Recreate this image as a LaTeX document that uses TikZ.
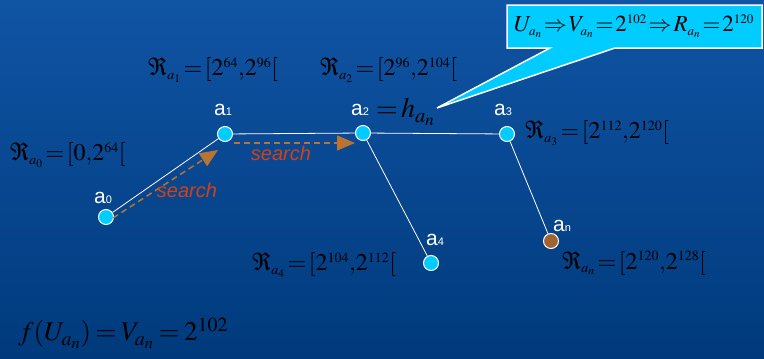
\documentclass[tikz,border=0pt]{standalone}
\usepackage{mathptmx}
\usepackage[no-math]{fontspec}
\setmainfont{Liberation Serif}
\newfontfamily\labfont{Liberation Sans}
\usetikzlibrary{arrows.meta}
\DeclareMathSizes{24}{24}{14}{11.5}
\DeclareMathSizes{23}{23}{13}{11}
\definecolor{bgtop}{RGB}{16,84,164}
\definecolor{bgbot}{RGB}{0,58,124}
\definecolor{nodecyan}{RGB}{0,204,255}
\definecolor{nodebrown}{RGB}{160,100,50}
\definecolor{arrowbrown}{RGB}{185,115,50}
\definecolor{searchred}{RGB}{210,65,20}
\definecolor{calloutfill}{RGB}{0,204,255}
\newcommand\albl[1]{a{\fontsize{11}{11}\selectfont #1}}
\newcommand\tmath[2]{\thickmuskip=#1\relax\medmuskip=1mu\relax$#2$}
\begin{document}
\begin{tikzpicture}[x=1pt,y=-1pt,
  vertex/.style={circle,fill=nodecyan,draw=white,line width=1pt,minimum size=15pt,inner sep=0pt},
  lab/.style={text=white,font=\labfont\fontsize{21}{21}\selectfont,inner sep=0pt},
  edge/.style={white,line width=0.8pt},
  srch/.style={arrowbrown,line width=1.5pt,dash pattern=on 6pt off 4pt,-{Triangle[length=18pt,width=15pt]}},
  srchlab/.style={text=searchred,font=\labfont\itshape\fontsize{20}{20}\selectfont,inner sep=0pt},
  mth/.style={text=black,font=\fontsize{24}{26}\selectfont,inner sep=0pt,anchor=west}]
\shade[top color=bgtop,bottom color=bgbot] (0,0) rectangle (764,359);
\useasboundingbox (0,0) rectangle (764,359);
% callout
\fill[calloutfill,draw=white,line width=1.5pt] (507,5) -- (762,5) -- (762,48) -- (615,48) -- (437,108) -- (550,48) -- (507,48) -- cycle;
\node[mth,anchor=center,font=\fontsize{23}{25}\selectfont] (callout) at (634,26) {\tmath{1.5mu}{U_{a_n}\Rightarrow V_{a_n}=2^{102}\Rightarrow R_{a_n}=2^{120}}};
% vertices
\node[vertex] (a0) at (106,217) {};
\node[vertex] (a1) at (225,134) {};
\node[vertex] (a2) at (363,133) {};
\node[vertex] (a3) at (507,134) {};
\node[vertex] (a4) at (431,263) {};
\node[vertex,fill=nodebrown] (an) at (551,241) {};
\node[lab] (la0) at (103,198) {\albl{0}};
\node[lab] (la1) at (223,110) {\albl{1}};
\node[lab] (la2) at (360,110) {\albl{2}};
\node[lab] (la3) at (503,110) {\albl{3}};
\node[lab] (la4) at (435,240) {\albl{4}};
\node[lab] (lan) at (562,226) {\albl{n}};
% edges
\draw[edge] (a0) -- (a1);
\draw[edge] (a1) -- (a2);
\draw[edge] (a2) -- (a3);
\draw[edge] (a2) -- (a4);
\draw[edge] (a3) -- (an);
% search arrows
\coordinate (s0) at (113,218);
\coordinate (s1) at (218,150);
\coordinate (s2) at (234,143);
\coordinate (s3) at (355,143);
\draw[srch] (s0) -- (s1);
\draw[srch] (s2) -- (s3);
\node[srchlab] (search1) at (187,190) {search};
\node[srchlab] (search2) at (281,153) {search};
% ranges
\node[mth] (r0) at (10,155) {\tmath{2mu}{\Re_{a_0}=\left[0{,}2^{64}\right[}};
\node[mth] (r1) at (148,70) {\tmath{2mu}{\Re_{a_1}=\left[2^{64}{,}2^{96}\right[}};
\node[mth] (r2) at (320,70) {\tmath{2mu}{\Re_{a_2}=\left[2^{96}{,}2^{104}\right[}};
\node[mth,font=\fontsize{28}{30}\selectfont] (h) at (376,112) {\tmath{2mu}{=h_{a_n}}};
\node[mth] (r3) at (525,133) {\tmath{2mu}{\Re_{a_3}=\left[2^{112}{,}2^{120}\right[}};
\node[mth] (r4) at (252,265) {\tmath{2mu}{\Re_{a_4}=\left[2^{104}{,}2^{112}\right[}};
\node[mth] (rn) at (562,263) {\tmath{2mu}{\Re_{a_n}=\left[2^{120}{,}2^{128}\right[}};
\node[mth,font=\fontsize{27}{29}\selectfont] (f) at (18,333) {\tmath{3mu}{f(U_{a_n})=V_{a_n}=2^{102}}};
\end{tikzpicture}
\end{document}
